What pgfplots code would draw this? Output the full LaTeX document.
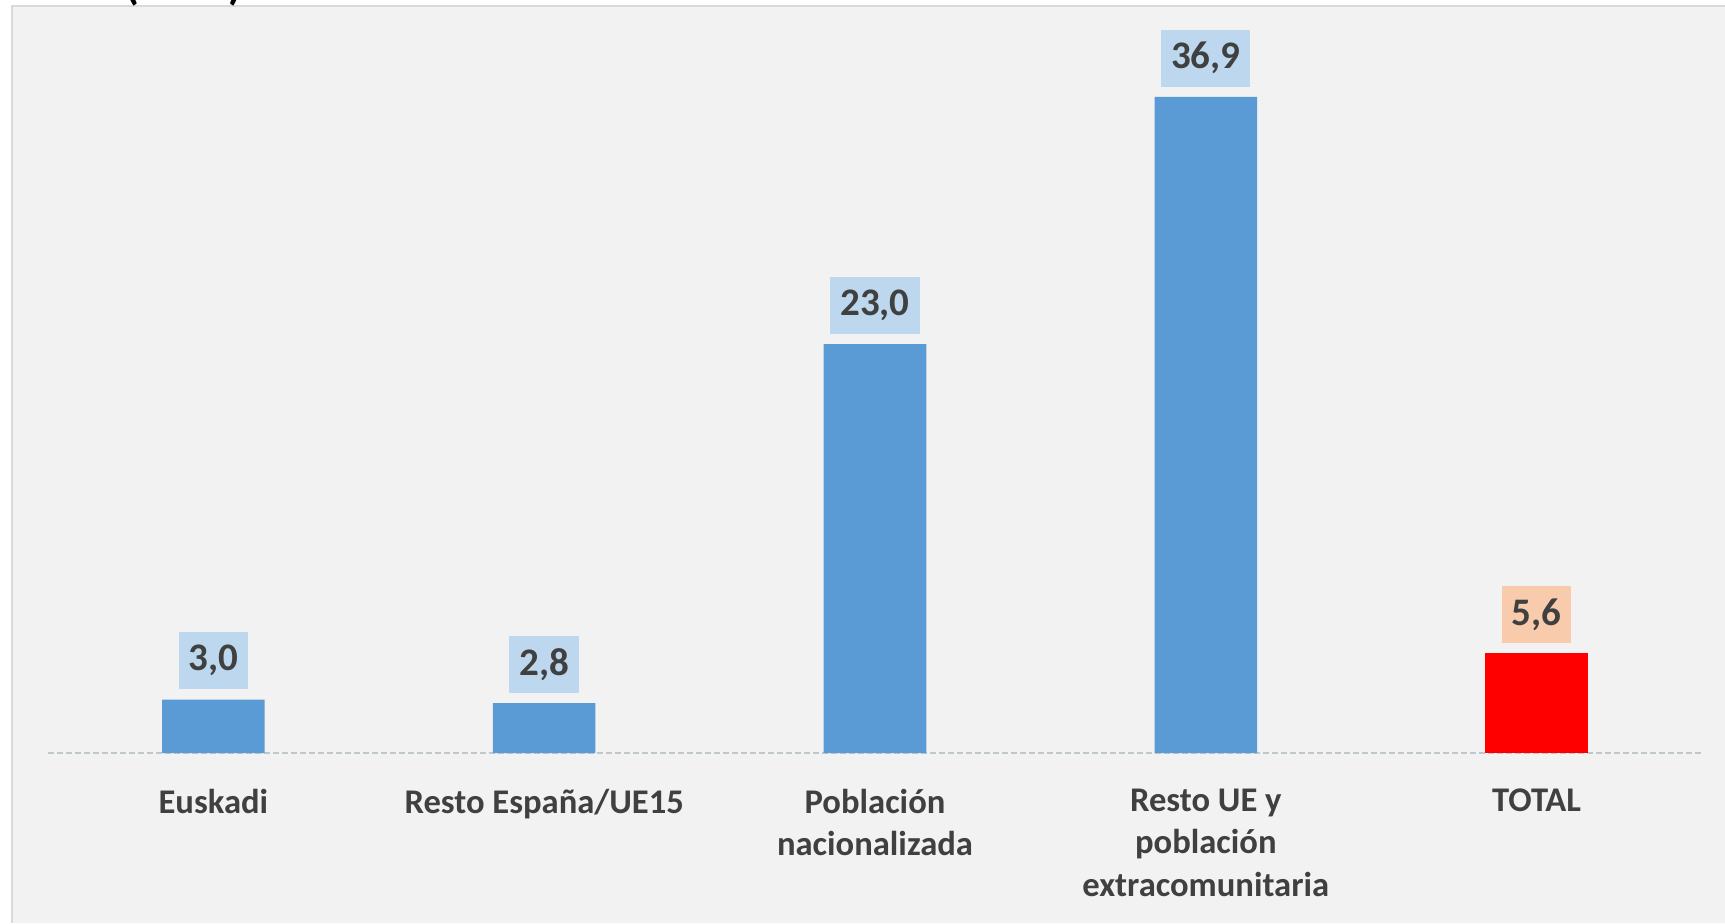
\documentclass[border=0pt]{standalone}
\usepackage{fontspec}
\setmainfont{Carlito}
\usepackage{pgfplots}
\pgfplotsset{compat=1.18}
\definecolor{panelbg}{HTML}{F2F2F2}
\definecolor{panelborder}{HTML}{D9D9D9}
\definecolor{barblue}{HTML}{5B9BD5}
\definecolor{barred}{HTML}{FF0000}
\definecolor{lblblue}{HTML}{BDD7EE}
\definecolor{lblorange}{HTML}{F8CBAD}
\definecolor{txt}{HTML}{404040}
\definecolor{axisline}{HTML}{BFC8C8}
\begin{document}
\begin{tikzpicture}
\fill[white] (0,0) rectangle (862.5pt,461.5pt);
\fill[panelbg] (6pt,0) rectangle (862.5pt,458.5pt);
\draw[panelborder, line width=0.8pt] (6pt,0) -- (6pt,458.5pt) -- (862.5pt,458.5pt);
\begin{axis}[
  at={(24pt,85pt)}, anchor=south west,
  scale only axis, width=827pt, height=355.6pt,
  xmin=-0.5, xmax=4.5, ymin=0, ymax=40,
  clip=false,
  axis y line=none, axis x line=bottom,
  x axis line style={-, draw=axisline, line width=0.8pt, dash pattern=on 3pt off 1.5pt},
  xtick={0,1,2,3,4},
  xticklabels={Euskadi, Resto España/UE15, {Población\\nacionalizada}, {Resto UE y\\población\\extracomunitaria}, TOTAL},
  xtick style={draw=none}, major tick length=0pt,
  x tick label style={align=center, font=\fontsize{17.3}{21.2}\selectfont\bfseries, text=txt, yshift=-14.5pt},
  ybar, bar width=0.31,
  nodes near coords={\pgfmathprintnumber[fixed,fixed zerofill,precision=1,use comma,assume math mode=true]{\pgfplotspointmeta}},
  every node near coord/.append style={anchor=south, yshift=5pt, fill=lblblue, text=txt,
     font=\fontsize{19.5}{23}\selectfont\bfseries, inner xsep=5pt, minimum height=28.5pt},
]
\addplot[fill=barblue, draw=none, bar shift=0pt] coordinates {(0,3.0) (1,2.8) (2,23.0) (3,36.9)};
\addplot[fill=barred, draw=none, bar shift=0pt, every node near coord/.append style={fill=lblorange}] coordinates {(4,5.6)};
\end{axis}
\node[anchor=base, font=\fontsize{22}{26}\selectfont\bfseries] at (92pt,461.5pt) {(\hphantom{0000})};
\pgfresetboundingbox
\useasboundingbox (0,0) rectangle (862.5pt,461.5pt);
\end{tikzpicture}
\end{document}
